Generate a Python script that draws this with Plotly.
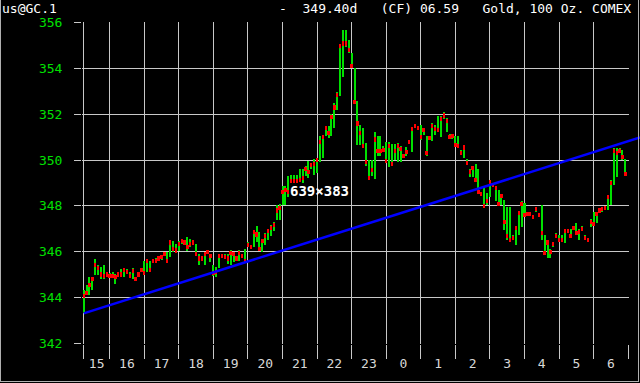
import plotly.graph_objects as go

# ---- data (5-minute bars from 15:15 to 06:55) ----
start_hour = 15.25
bar_minutes = 5

highs = [344.3, 344.52, 344.88, 344.9, 345.68, 345.4, 345.32, 345.4, 345.1, 345.05,
         345.1, 345.0, 345.1, 345.25, 345.3, 345.25, 345.1, 345.3, 344.88, 345.1,
         345.28, 345.6, 345.68, 345.6, 345.68, 345.7, 345.78, 345.82, 345.97, 346.0,
         346.48, 346.48, 346.33, 346.45, 346.55, 346.48, 346.62, 346.55, 346.5, 346.33,
         345.9, 345.83, 345.97, 346.07, 345.9, 345.4, 345.32, 345.9, 345.9, 345.9,
         345.9, 346.07, 345.97, 345.8, 346.07, 345.9, 346.1, 346.4, 346.3, 346.95,
         347.13, 346.85, 346.55, 346.8, 347.0, 347.15, 347.3, 348.05, 348.1, 348.86,
         348.86, 349.3, 349.35, 349.35, 349.35, 349.6, 349.6, 349.73, 349.95, 349.88,
         350.05, 350.05, 351.07, 351.12, 351.5, 351.48, 352.0, 352.5, 353.0, 355.1,
         355.7, 355.7, 355.25, 354.7, 354.05, 352.6, 351.53, 351.42, 350.74, 350.0,
         350.0, 351.23, 351.04, 351.04, 350.6, 350.8, 350.8, 350.7, 350.7, 350.74,
         350.6, 350.27, 350.56, 350.9, 351.45, 351.6, 351.5, 351.53, 351.42, 351.04,
         351.04, 351.63, 351.53, 351.93, 351.93, 352.1, 351.83, 351.13, 351.13, 351.05,
         351.05, 350.44, 350.62, 350.03, 349.6, 349.71, 349.83, 349.6, 348.62, 348.8,
         348.55, 349.13, 348.95, 348.87, 348.69, 348.52, 348.25, 347.96, 347.96, 346.72,
         347.12, 347.74, 348.22, 348.14, 347.73, 347.73, 347.6, 347.92, 347.7, 348.03,
         346.72, 346.5, 346.1, 346.43, 346.82, 346.72, 346.72, 347.0, 347.0, 347.0,
         347.12, 347.23, 347.0, 347.12, 346.72, 346.6, 347.41, 347.74, 347.74, 347.89,
         347.9, 348.0, 348.47, 349.13, 350.51, 350.51, 350.51, 350.44, 350.03]

lows = [343.3, 344.09, 344.09, 344.3, 344.96, 344.96, 344.81, 344.8, 344.9, 344.9,
        344.88, 344.6, 344.9, 344.96, 344.9, 345.0, 344.9, 344.8, 344.7, 344.9,
        345.1, 345.0, 345.1, 345.1, 345.55, 345.55, 345.6, 345.65, 345.8, 345.55,
        345.75, 345.97, 345.95, 346.04, 346.33, 346.3, 346.04, 346.2, 346.28, 345.83,
        345.4, 345.6, 345.4, 345.9, 345.54, 344.95, 344.9, 345.3, 345.7, 345.7,
        345.46, 345.4, 345.54, 345.6, 345.6, 345.7, 345.54, 346.2, 346.1, 346.2,
        346.4, 346.04, 345.97, 346.3, 346.5, 346.7, 346.9, 347.4, 347.4, 348.05,
        348.05, 348.4, 349.0, 349.0, 349.0, 349.1, 349.0, 349.3, 349.2, 349.6,
        349.37, 349.45, 349.9, 350.1, 351.04, 350.97, 351.04, 351.4, 352.2, 352.8,
        353.65, 354.95, 354.7, 354.05, 352.45, 350.65, 350.67, 350.56, 349.75, 349.11,
        349.3, 349.19, 350.2, 350.2, 350.4, 349.9, 349.7, 349.75, 350.0, 349.9,
        349.9, 350.1, 350.2, 350.7, 350.34, 351.45, 351.3, 350.9, 351.08, 350.2,
        350.86, 350.83, 351.08, 351.23, 351.0, 351.8, 351.24, 350.92, 350.92, 350.62,
        350.56, 350.22, 350.1, 349.8, 349.27, 349.27, 349.06, 348.55, 348.43, 347.96,
        348.03, 348.4, 348.84, 348.22, 348.03, 348.03, 346.94, 346.5, 346.43, 346.53,
        346.29, 346.72, 347.06, 347.55, 347.55, 347.55, 347.41, 347.74, 347.5, 346.5,
        345.92, 345.73, 345.73, 346.2, 346.65, 346.43, 346.43, 346.36, 346.84, 346.65,
        346.94, 346.72, 346.5, 346.94, 346.53, 346.43, 347.06, 347.12, 347.23, 347.74,
        347.75, 347.82, 347.84, 348.04, 348.9, 349.27, 350.3, 350.0, 349.35]

closes = [344.05, 344.2, 344.55, 344.8, 345.4, 345.3, 345.0, 344.95, 345.0, 344.95,
          344.95, 344.9, 345.0, 345.0, 345.2, 345.1, 344.95, 345.15, 344.8, 345.0,
          345.2, 345.05, 345.6, 345.2, 345.6, 345.6, 345.7, 345.75, 345.9, 345.6,
          346.4, 346.1, 346.05, 346.35, 346.45, 346.4, 346.2, 346.35, 346.4, 345.9,
          345.7, 345.7, 345.9, 346.0, 345.8, 345.05, 345.1, 345.8, 345.8, 345.75,
          345.7, 345.95, 345.9, 345.7, 345.95, 345.8, 345.6, 346.3, 346.2, 346.85,
          346.75, 346.1, 346.45, 346.7, 346.9, 347.05, 347.15, 347.8, 347.9, 348.6,
          348.7, 348.6, 349.1, 349.1, 349.1, 349.15, 349.2, 349.6, 349.5, 349.8,
          349.85, 350.0, 350.8, 351.0, 351.4, 351.2, 351.9, 352.3, 352.85, 355.0,
          355.1, 355.1, 354.8, 354.1, 352.55, 351.6, 351.2, 350.6, 349.9, 349.2,
          349.55, 350.9, 350.4, 350.4, 350.45, 349.95, 350.6, 349.85, 350.4, 350.6,
          350.5, 350.2, 350.35, 350.8, 351.35, 351.5, 351.4, 351.0, 351.3, 350.3,
          350.95, 351.5, 351.35, 351.3, 351.8, 351.95, 351.7, 351.0, 351.05, 350.68,
          350.62, 350.3, 350.55, 349.88, 349.5, 349.65, 349.12, 348.6, 348.5, 348.0,
          348.2, 349.05, 348.9, 348.8, 348.1, 348.45, 347.3, 346.7, 346.5, 346.6,
          347.05, 347.7, 348.1, 347.6, 347.65, 347.65, 347.5, 347.85, 347.6, 346.8,
          345.95, 346.4, 346.0, 346.35, 346.7, 346.5, 346.5, 346.9, 346.9, 346.7,
          347.05, 346.8, 346.85, 347.0, 346.6, 346.5, 347.3, 347.2, 347.65, 347.8,
          347.85, 347.9, 348.4, 349.0, 350.4, 350.3, 350.4, 350.15, 349.4]

hour_labels = ["15", "16", "17", "18", "19", "20", "21", "22", "23",
               "0", "1", "2", "3", "4", "5", "6"]
hour_label_pos = [15.625, 16.5, 17.5, 18.5, 19.5, 20.5, 21.5, 22.5, 23.5,
                  24.5, 25.5, 26.5, 27.5, 28.5, 29.5, 30.5]
hour_lines = [15.25, 16, 17, 18, 19, 20, 21, 22, 23, 24, 25, 26, 27, 28, 29, 30, 31]
price_ticks = [342, 344, 346, 348, 350, 352, 354, 356]

trend_x = [15.25, 31.34]
trend_y = [343.30, 350.99]

header_left = "us@GC.1"
header_right = "-  349.40d   (CF) 06.59   Gold, 100 Oz. COMEX"
size_note = "639×383"

# ---- derived ----
times = [start_hour + i * bar_minutes / 60 for i in range(len(highs))]
ranges = [h - l for h, l in zip(highs, lows)]
close_mark = 0.18
close_base = [c - close_mark / 2 for c in closes]

W, H = 640, 383
ML, MT, MB = 82, 22, 39
PW = W - ML
PH = H - MT - MB
px_per_hour = 34.57
x_range = [15.2, 31.02]
main_dom = (x_range[1] - x_range[0]) * px_per_hour / PW
x2_range = [15.2, 15.2 + PW / px_per_hour]
y_range = [341.96, 356.04]

GRID = "#c8c8c8"
GREEN = "#00e000"
RED = "#ff0000"
MONO = "DejaVu Sans Mono"

fig = go.Figure()
fig.add_trace(go.Bar(x=times, y=ranges, base=lows, width=0.058,
                     marker=dict(color=GREEN, line=dict(width=0)),
                     xaxis="x", yaxis="y", showlegend=False))
fig.add_trace(go.Bar(x=times, y=[close_mark] * len(closes), base=close_base, width=0.068,
                     marker=dict(color=RED, line=dict(width=0)),
                     xaxis="x", yaxis="y", showlegend=False))
fig.add_trace(go.Scatter(x=trend_x, y=trend_y, mode="lines",
                         line=dict(color="#0000ff", width=2.5),
                         xaxis="x2", yaxis="y2", showlegend=False))


def px_x(p):
    return (p - ML) / PW


def px_y(p):
    return (H - MB - p) / PH


fig.update_layout(
    width=W, height=H,
    margin=dict(l=ML, r=0, t=MT, b=MB, pad=0),
    paper_bgcolor="black", plot_bgcolor="rgba(0,0,0,0)",
    barmode="overlay", bargap=0,
    font=dict(family=MONO, size=13, color="#d8d8d8"),
    xaxis=dict(domain=[0, main_dom], range=x_range, anchor="y",
               tickmode="array", tickvals=hour_label_pos, ticktext=hour_labels,
               ticks="", showgrid=False, zeroline=False, showline=False,
               tickfont=dict(family=MONO, size=13, color="#d8d8d8"),
               ticklabelstandoff=10,
               minor=dict(tickmode="array", tickvals=hour_lines, showgrid=True,
                          gridcolor=GRID, gridwidth=1, ticks="outside",
                          ticklen=14, tickcolor=GRID, tickwidth=1)),
    yaxis=dict(domain=[0, 1], range=y_range, anchor="x",
               tickmode="array", tickvals=price_ticks,
               ticktext=[str(v) for v in price_ticks],
               ticks="outside", ticklen=7, tickcolor=GRID, tickwidth=1,
               showgrid=True, gridcolor=GRID, gridwidth=1,
               zeroline=False, showline=False,
               tickfont=dict(family=MONO, size=13, color="#00e000"),
               ticklabelstandoff=9),
    xaxis2=dict(domain=[0, 1], range=x2_range, anchor="y2", visible=False),
    yaxis2=dict(domain=[0, 1], range=y_range, anchor="x2", visible=False),
    annotations=[
        dict(text=header_left, xref="paper", yref="paper", x=px_x(0), y=px_y(9),
             xanchor="left", yanchor="middle", showarrow=False,
             font=dict(family=MONO, size=13, color="white")),
        dict(text=header_right, xref="paper", yref="paper", x=px_x(633), y=px_y(9),
             xanchor="right", yanchor="middle", showarrow=False,
             font=dict(family=MONO, size=13, color="white")),
        dict(text="<b>" + size_note + "</b>", xref="paper", yref="paper",
             x=px_x(319), y=px_y(191), xanchor="center", yanchor="middle",
             showarrow=False, font=dict(family=MONO, size=14, color="white")),
    ],
    shapes=[
        dict(type="line", xref="paper", yref="paper", x0=px_x(0.5), x1=px_x(0.5),
             y0=px_y(0), y1=px_y(382), line=dict(color="#b0b0b0", width=1)),
        dict(type="line", xref="paper", yref="paper", x0=px_x(638.5), x1=px_x(638.5),
             y0=px_y(0), y1=px_y(382), line=dict(color="#b0b0b0", width=1)),
        dict(type="line", xref="paper", yref="paper", x0=px_x(0), x1=px_x(639),
             y0=px_y(381.5), y1=px_y(381.5), line=dict(color="#b0b0b0", width=1)),
    ],
)

fig.write_html("out.html")
